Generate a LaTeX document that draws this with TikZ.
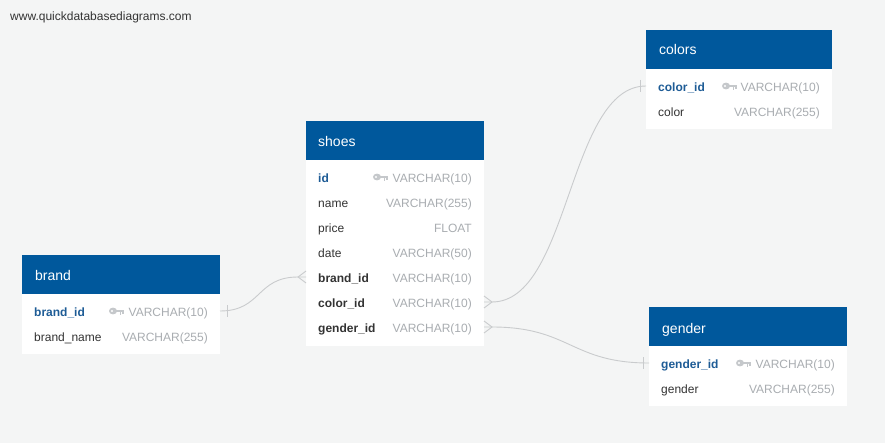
\documentclass[tikz,border=0pt]{standalone}
\usepackage{fontspec}
\setmainfont{Liberation Sans}
\definecolor{bgc}{HTML}{F4F5F5}
\definecolor{hdrc}{HTML}{00589C}
\definecolor{keyblue}{HTML}{1E5C96}
\definecolor{txtc}{HTML}{333333}
\definecolor{typc}{HTML}{A9ADB1}
\definecolor{connc}{HTML}{C9CBCD}
\definecolor{keyc}{HTML}{C5C8CB}
\tikzset{
  hdrbox/.style={fill=hdrc, draw=none, inner sep=0, outer sep=0, minimum height=39, anchor=north west},
  bodybox/.style={fill=white, draw=none, inner sep=0, outer sep=0, anchor=north west},
  rowbox/.style={draw=none, inner sep=0, outer sep=0, minimum height=25},
  titletext/.style={text=white, font=\fontsize{14}{16}\selectfont, inner sep=0},
  pktext/.style={text=keyblue, font=\fontsize{12}{14}\selectfont\bfseries, inner sep=0},
  fktext/.style={text=txtc, font=\fontsize{12}{14}\selectfont\bfseries, inner sep=0},
  coltext/.style={text=txtc, font=\fontsize{12}{14}\selectfont, inner sep=0},
  typetext/.style={text=typc, font=\fontsize{12}{14}\selectfont, inner sep=0},
  conn/.style={draw=connc, line width=0.9pt},
}
\newcommand{\dbrow}[7]{%
  \node[rowbox, minimum width={(#3)-(#2)}] (#1) at ({((#2)+(#3))/2},#4) {};
  \node[#6, anchor=base west] (#1-name) at ({(#2)+12},{(#4)+5.2}) {#5};
  \node[typetext, anchor=base east] (#1-type) at ({(#3)-12},{(#4)+5.2}) {#7};
}
\newcommand{\dbkey}[2]{%
  \fill[keyc] ({(#1)+4},#2) ellipse (4 and 3.4);
  \fill[keyc] ({(#1)+6},{(#2)-1.3}) rectangle ({(#1)+15},{(#2)+1.3});
  \fill[keyc] ({(#1)+10.5},#2) rectangle ({(#1)+12},{(#2)+3.6});
  \fill[keyc] ({(#1)+13.3},#2) rectangle ({(#1)+15},{(#2)+3.2});
  \fill[white] ({(#1)+3},#2) circle (1.1);
}
\begin{document}
\begin{tikzpicture}[x=1pt,y=-1pt]
\fill[bgc] (0,0) rectangle (885,443);
\useasboundingbox (0,0) rectangle (885,443);

\node[coltext, anchor=base west, font=\fontsize{12}{14}\selectfont] (wm) at (10,21) {www.quickdatabasediagrams.com};

% shoes
\node[bodybox, minimum width=178, minimum height=186] (shoes-body) at (306,160) {};
\node[hdrbox, minimum width=178] (shoes) at (306,121) {};
\node[titletext, anchor=base west] (shoes-title) at (318,147) {shoes};
\dbrow{shoes-id}{306}{484}{177}{id}{pktext}{VARCHAR(10)}
\dbkey{373}{177}
\dbrow{shoes-name}{306}{484}{202}{name}{coltext}{VARCHAR(255)}
\dbrow{shoes-price}{306}{484}{227}{price}{coltext}{FLOAT}
\dbrow{shoes-date}{306}{484}{252}{date}{coltext}{VARCHAR(50)}
\dbrow{shoes-brand}{306}{484}{277}{brand\_id}{fktext}{VARCHAR(10)}
\dbrow{shoes-color}{306}{484}{302}{color\_id}{fktext}{VARCHAR(10)}
\dbrow{shoes-gender}{306}{484}{327}{gender\_id}{fktext}{VARCHAR(10)}

% brand
\node[bodybox, minimum width=198, minimum height=60] (brand-body) at (22,294) {};
\node[hdrbox, minimum width=198] (brand) at (22,255) {};
\node[titletext, anchor=base west] (brand-title) at (35,280) {brand};
\dbrow{brand-id}{22}{220}{311}{brand\_id}{pktext}{VARCHAR(10)}
\dbkey{109}{311}
\dbrow{brand-name}{22}{220}{336}{brand\_name}{coltext}{VARCHAR(255)}

% colors
\node[bodybox, minimum width=186, minimum height=60] (colors-body) at (646,69) {};
\node[hdrbox, minimum width=186] (colors) at (646,30) {};
\node[titletext, anchor=base west] (colors-title) at (659,55) {colors};
\dbrow{colors-id}{646}{832}{86}{color\_id}{pktext}{VARCHAR(10)}
\dbkey{722}{86}
\dbrow{colors-color}{646}{832}{111}{color}{coltext}{VARCHAR(255)}

% gender
\node[bodybox, minimum width=198, minimum height=60] (gender-body) at (649,346) {};
\node[hdrbox, minimum width=198] (gender) at (649,307) {};
\node[titletext, anchor=base west] (gender-title) at (662,333) {gender};
\dbrow{gender-id}{649}{847}{363}{gender\_id}{pktext}{VARCHAR(10)}
\dbkey{736}{363}
\dbrow{gender-gender}{649}{847}{388}{gender}{coltext}{VARCHAR(255)}

% connectors
\coordinate (cf1) at ([xshift=-8pt]shoes-brand.west);
\draw[conn] (brand-id.east) .. controls +(42,0) and +(-42,0) .. (cf1) -- (shoes-brand.west);
\draw[conn] ([xshift=7pt,yshift=6pt]brand-id.east) -- ([xshift=7pt,yshift=-6pt]brand-id.east);
\draw[conn] ([yshift=6pt]shoes-brand.west) -- (cf1) -- ([yshift=-6pt]shoes-brand.west);

\coordinate (cf2) at ([xshift=8pt]shoes-color.east);
\draw[conn] (shoes-color.east) -- (cf2) .. controls +(78,0) and +(-78,0) .. (colors-id.west);
\draw[conn] ([yshift=6pt]shoes-color.east) -- (cf2) -- ([yshift=-6pt]shoes-color.east);
\draw[conn] ([xshift=-6pt,yshift=6pt]colors-id.west) -- ([xshift=-6pt,yshift=-6pt]colors-id.west);

\coordinate (cf3) at ([xshift=8pt]shoes-gender.east);
\draw[conn] (shoes-gender.east) -- (cf3) .. controls +(78,0) and +(-78,0) .. (gender-id.west);
\draw[conn] ([yshift=6pt]shoes-gender.east) -- (cf3) -- ([yshift=-6pt]shoes-gender.east);
\draw[conn] ([xshift=-6pt,yshift=6pt]gender-id.west) -- ([xshift=-6pt,yshift=-6pt]gender-id.west);
\end{tikzpicture}
\end{document}
